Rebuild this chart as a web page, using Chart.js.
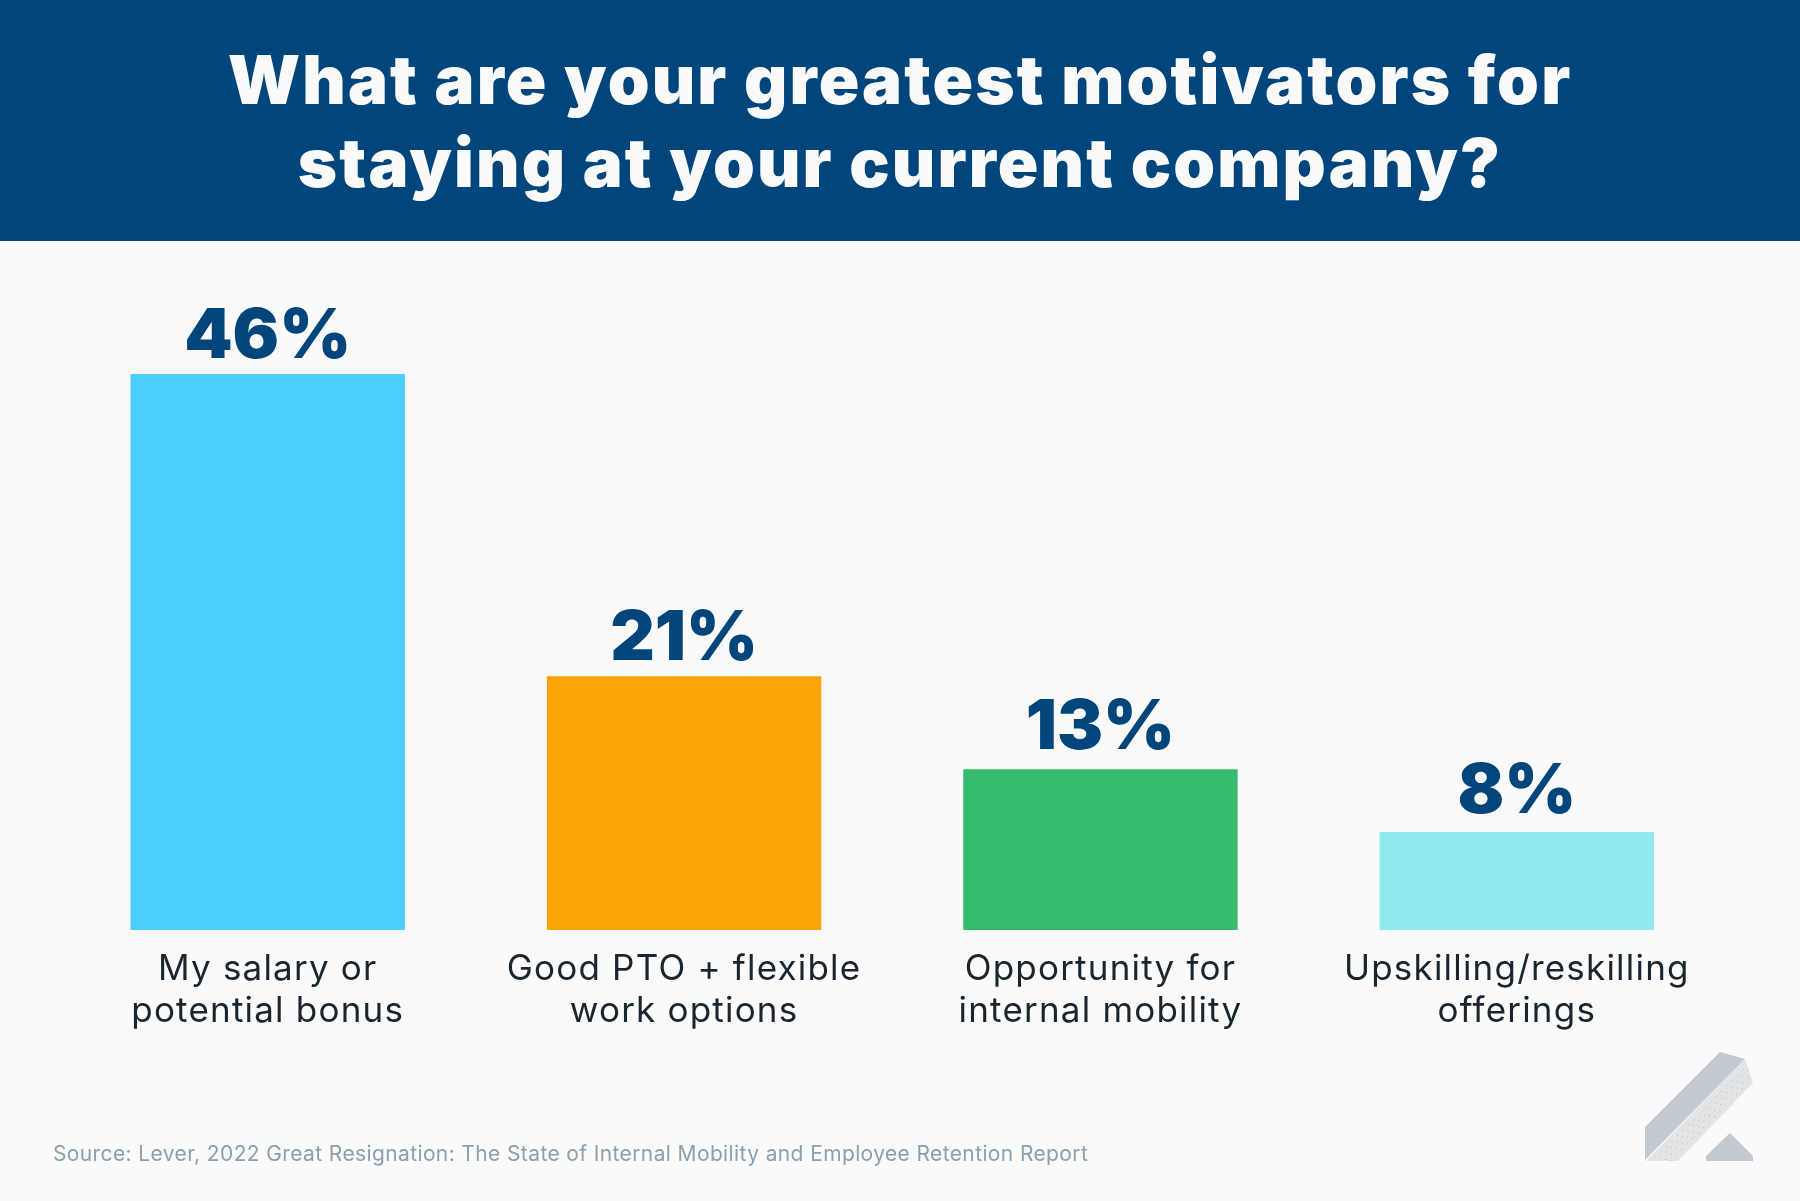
<!DOCTYPE html>
<html>
<head>
<meta charset="utf-8">
<title>Motivators for staying</title>
<script src="https://cdn.jsdelivr.net/npm/chart.js@4/dist/chart.umd.min.js"></script>
<style>
    html, body { margin: 0; padding: 0; background: #fafafa; }
    canvas { display: block; }
</style>
</head>
<body>
<canvas id="barChart" width="1800" height="1201"></canvas>
<script>
const titleLines = ['What are your greatest motivators for', 'staying at your current company?'];
const categories = [
    ['My salary or', 'potential bonus'],
    ['Good PTO + flexible', 'work options'],
    ['Opportunity for', 'internal mobility'],
    ['Upskilling/reskilling', 'offerings']
];
// bar lengths, the printed labels are rounded
const barLengths = [46, 21, 13.3, 8.1];
const printedLabels = ['46%', '21%', '13%', '8%'];
const barColors = ['#4ad0fb', '#fba404', '#36bc6f', '#91e8f0'];
const sourceText = 'Source: Lever, 2022 Great Resignation: The State of Internal Mobility and Employee Retention Report';

const NAVY = '#00457c';
const FONT = 'Inter, "Open Sans", sans-serif';
const labelGaps = [16, 16, 20.5, 19.5];

// header band + heading, drawn behind everything
const headerPlugin = {
    id: 'header',
    beforeDraw(chart) {
        const ctx = chart.ctx;
        ctx.save();
        ctx.fillStyle = NAVY;
        ctx.fillRect(0, 0, chart.width, 241);
        ctx.fillStyle = '#fafafa';
        ctx.font = '900 67px ' + FONT;
        ctx.letterSpacing = '2.15px';
        ctx.textAlign = 'center';
        ctx.textBaseline = 'alphabetic';
        ctx.fillText(titleLines[0], 900, 104);
        ctx.fillText(titleLines[1], 900, 187);
        ctx.restore();
        // tick labels pick this up, the font is narrower than the original
        ctx.letterSpacing = '1.2px';
    }
};

// percent labels above the bars
const valueLabels = {
    id: 'valueLabels',
    afterDatasetsDraw(chart) {
        const ctx = chart.ctx;
        ctx.save();
        ctx.fillStyle = NAVY;
        ctx.font = '900 69px ' + FONT;
        ctx.letterSpacing = '0px';
        ctx.textAlign = 'center';
        ctx.textBaseline = 'alphabetic';
        chart.getDatasetMeta(0).data.forEach((bar, i) => {
            ctx.fillText(printedLabels[i], bar.x, bar.y - labelGaps[i]);
        });
        ctx.restore();
    }
};

// source line and the little logo in the bottom corner
const footerPlugin = {
    id: 'footer',
    afterDraw(chart) {
        const ctx = chart.ctx;
        ctx.save();
        ctx.fillStyle = '#8a9fb0';
        ctx.font = '400 21px ' + FONT;
        ctx.letterSpacing = '0.38px';
        ctx.textAlign = 'left';
        ctx.textBaseline = 'alphabetic';
        ctx.fillText(sourceText, 53, 1161);

        const poly = (pts, color) => {
            const path = new Path2D();
            pts.forEach((p, i) => i ? path.lineTo(p[0], p[1]) : path.moveTo(p[0], p[1]));
            path.closePath();
            ctx.fillStyle = color;
            ctx.fill(path);
            return path;
        };
        poly([[1645, 1127], [1720, 1052], [1745, 1059], [1645, 1160]], '#c0cad0');
        const face = poly([[1745, 1059], [1753, 1083], [1678, 1161], [1646, 1161]], '#e2e4e6');
        poly([[1730, 1133], [1753, 1156], [1753, 1161], [1706, 1161], [1706, 1156]], '#c0cad0');

        // stipple on the light face
        ctx.fillStyle = '#b4bcc2';
        for (let i = 0; i < 18; i++) {
            for (let j = 0; j < 4; j++) {
                const dx = 1655 + i * 5.5 + j * 5;
                const dy = 1157 - i * 5.5 + j * 1;
                if (ctx.isPointInPath(face, dx, dy)) ctx.fillRect(dx, dy, 1, 1);
            }
        }
        ctx.restore();
    }
};

const ctx = document.getElementById('barChart').getContext('2d');
new Chart(ctx, {
    type: 'bar',
    data: {
        labels: categories,
        datasets: [{
            data: barLengths,
            backgroundColor: barColors,
            borderWidth: 0,
            barPercentage: 0.659,
            categoryPercentage: 1
        }]
    },
    options: {
        responsive: false,
        devicePixelRatio: 1,
        animation: false,
        layout: { padding: { top: 374, left: 59.5, right: 75, bottom: 0 } },
        plugins: {
            legend: { display: false },
            tooltip: { enabled: false }
        },
        scales: {
            x: {
                grid: { display: false },
                border: { display: false },
                afterFit: scale => { scale.height = 271; },
                ticks: {
                    color: '#1a2530',
                    padding: 11,
                    maxRotation: 0,
                    autoSkip: false,
                    font: { family: FONT, size: 35, weight: '400', lineHeight: 41.5 / 35 }
                }
            },
            y: {
                display: false,
                min: 0,
                max: 46
            }
        }
    },
    plugins: [headerPlugin, valueLabels, footerPlugin]
});
</script>
</body>
</html>
